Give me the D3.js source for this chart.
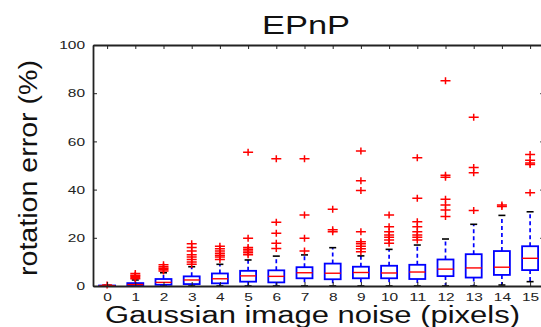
<!DOCTYPE html>
<html>
<head>
<meta charset="utf-8">
<script src="https://cdn.jsdelivr.net/npm/d3@7"></script>
<style>
  body { margin: 0; background: #fff; }
  svg { display: block; font-family: "Liberation Sans", Arial, sans-serif; }
  .axis path, .axis line { stroke: #222; }
  .axis text { fill: #222; }
</style>
</head>
<body>
<svg width="541" height="327"></svg>
<script>
// noise level categories (pixels)
const noiseLevels = ["0","1","2","3","4","5","6","7","8","9","10","11","12","13","14","15"];
// box statistics, rotation error (%)
const whiskerLow  = [0, 0, 0, 0, 0, 0, 0, 0, 0, 0, 0, 0, 0, 0, 0.4, 1.8];
const q1          = [0, 0.2, 0.5, 0.8, 1.1, 1.8, 1.5, 3.2, 2.8, 3.2, 3.2, 2.9, 4.1, 3.5, 4.6, 6.6];
const medians     = [0.1, 0.6, 1.5, 2.5, 3.0, 4.2, 4.0, 5.5, 5.3, 5.6, 5.4, 5.8, 7.0, 7.5, 7.8, 11.5];
const q3          = [0.2, 1.2, 2.9, 4.0, 5.2, 6.3, 6.5, 7.8, 9.3, 8.0, 8.4, 8.8, 11.0, 13.2, 14.5, 16.5];
const whiskerHigh = [0.3, 2.5, 5.5, 8.0, 9.0, 10.8, 12.4, 12.9, 15.9, 12.5, 15.2, 17.0, 19.5, 25.6, 29.3, 30.8];
const outliers = [
  [0.4],
  [3, 3.5, 4, 4.5, 5.2],
  [6.2, 6.8, 7.4, 8.0, 8.8],
  [9, 10, 11, 12, 13, 14.5, 16, 17.5],
  [11, 12, 12.8, 13.6, 14.5, 15.5, 16.5],
  [13, 13.8, 14.5, 15.2, 16, 19.8, 55.5],
  [15.6, 17.7, 21.9, 26.5, 52.8],
  [14.5, 19.8, 29.5, 52.8],
  [22.5, 23.3, 31.8],
  [14.2, 15.5, 16.5, 17.5, 18.4, 22.5, 39.6, 43.7, 56],
  [17.7, 19.1, 20.2, 21.2, 22.5, 24.6, 29.5],
  [19.1, 20.2, 21.2, 22.5, 24.6, 26.7, 36.4, 53.2],
  [28.8, 31.5, 33.6, 36, 45.1, 46, 85.2],
  [31.3, 47, 49.2, 70],
  [33, 33.6],
  [38.7, 50.4, 51, 52.2, 54.6]
];
const yTicks = [0, 20, 40, 60, 80, 100];

const svg = d3.select("svg");
const digitW = 8.6; // digits are drawn wide, the figure is stretched sideways

const x = d3.scaleLinear().domain([-0.5, 15.5]).range([93, 544.2]);
const y = d3.scaleLinear().domain([0, 100]).range([286, 45]);

const boxes = noiseLevels.map((n, i) => ({
  n: +n, lo: whiskerLow[i], q1: q1[i], med: medians[i], q3: q3[i], hi: whiskerHigh[i], out: outliers[i]
}));

const boxW = 16, capW = 7;
const g = svg.append("g");

const b = g.selectAll(".box").data(boxes).join("g").attr("class", "box");

// whiskers (dashed blue)
b.append("line")
  .attr("x1", d => x(d.n)).attr("x2", d => x(d.n))
  .attr("y1", d => y(d.q3)).attr("y2", d => y(d.hi))
  .attr("stroke", "#0000ff").attr("stroke-width", 1.7).attr("stroke-dasharray", "4,3");
b.append("line")
  .attr("x1", d => x(d.n)).attr("x2", d => x(d.n))
  .attr("y1", d => y(d.q1)).attr("y2", d => y(d.lo))
  .attr("stroke", "#0000ff").attr("stroke-width", 1.7).attr("stroke-dasharray", "4,3");
// caps (black)
b.selectAll(".cap").data(d => [d.lo, d.hi].map(v => ({ n: d.n, v }))).join("line")
  .attr("x1", d => x(d.n) - capW / 2).attr("x2", d => x(d.n) + capW / 2)
  .attr("y1", d => y(d.v)).attr("y2", d => y(d.v))
  .attr("stroke", "#000").attr("stroke-width", 1.6);
// box
b.append("rect")
  .attr("x", d => x(d.n) - boxW / 2).attr("width", boxW)
  .attr("y", d => y(d.q3)).attr("height", d => Math.max(0.5, y(d.q1) - y(d.q3)))
  .attr("fill", "none").attr("stroke", "#0000ff").attr("stroke-width", 1.8);
// median
b.append("line")
  .attr("x1", d => x(d.n) - boxW / 2).attr("x2", d => x(d.n) + boxW / 2)
  .attr("y1", d => y(d.med)).attr("y2", d => y(d.med))
  .attr("stroke", "#ff0000").attr("stroke-width", 1.4);
// outliers as red +
b.selectAll(".out").data(d => d.out.map(v => ({ n: d.n, v }))).join("path")
  .attr("d", d => `M${x(d.n) - 5},${y(d.v)}h10M${x(d.n)},${y(d.v) - 3.5}v7`)
  .attr("stroke", "#ff0000").attr("stroke-width", 1.5).attr("fill", "none");

// axes, MATLAB style ticks pointing inwards
svg.append("g").attr("class", "axis").attr("transform", `translate(0,${y(0)})`)
  .call(d3.axisBottom(x).tickValues(d3.range(16)).tickFormat((d, i) => noiseLevels[i])
    .tickSizeInner(-4).tickSizeOuter(0).tickPadding(7));
svg.append("g").attr("class", "axis").attr("transform", `translate(0,${y(100)})`)
  .call(d3.axisTop(x).tickValues(d3.range(16)).tickFormat("").tickSizeInner(-4).tickSizeOuter(0));
svg.append("g").attr("class", "axis").attr("transform", `translate(${x(-0.5)},0)`)
  .call(d3.axisLeft(y).tickValues(yTicks).tickSizeInner(-4).tickSizeOuter(0).tickPadding(8));
svg.append("g").attr("class", "axis").attr("transform", `translate(${x(15.5)},0)`)
  .call(d3.axisRight(y).tickValues(yTicks).tickFormat("").tickSizeInner(-4).tickSizeOuter(0));

svg.selectAll(".axis path").attr("stroke-width", 1.8);
svg.selectAll(".axis text").filter(function () { return this.textContent !== ""; })
  .attr("font-size", 11.5)
  .attr("lengthAdjust", "spacingAndGlyphs")
  .attr("textLength", function () { return this.textContent.length * digitW; });

// title and axis labels
svg.append("text").attr("x", 262).attr("y", 34)
  .attr("textLength", 88).attr("lengthAdjust", "spacingAndGlyphs")
  .attr("font-size", 25).attr("fill", "#111").text("EPnP");
svg.append("text").attr("x", 105).attr("y", 323)
  .attr("textLength", 415).attr("lengthAdjust", "spacingAndGlyphs")
  .attr("font-size", 23).attr("fill", "#111")
  .text("Gaussian image noise (pixels)");
svg.append("text")
  .attr("transform", `translate(37,168) scale(1.05,1) rotate(-90)`)
  .attr("x", -108).attr("textLength", 216).attr("lengthAdjust", "spacingAndGlyphs")
  .attr("font-size", 24).attr("fill", "#111")
  .text("rotation error (%)");
</script>
</body>
</html>
